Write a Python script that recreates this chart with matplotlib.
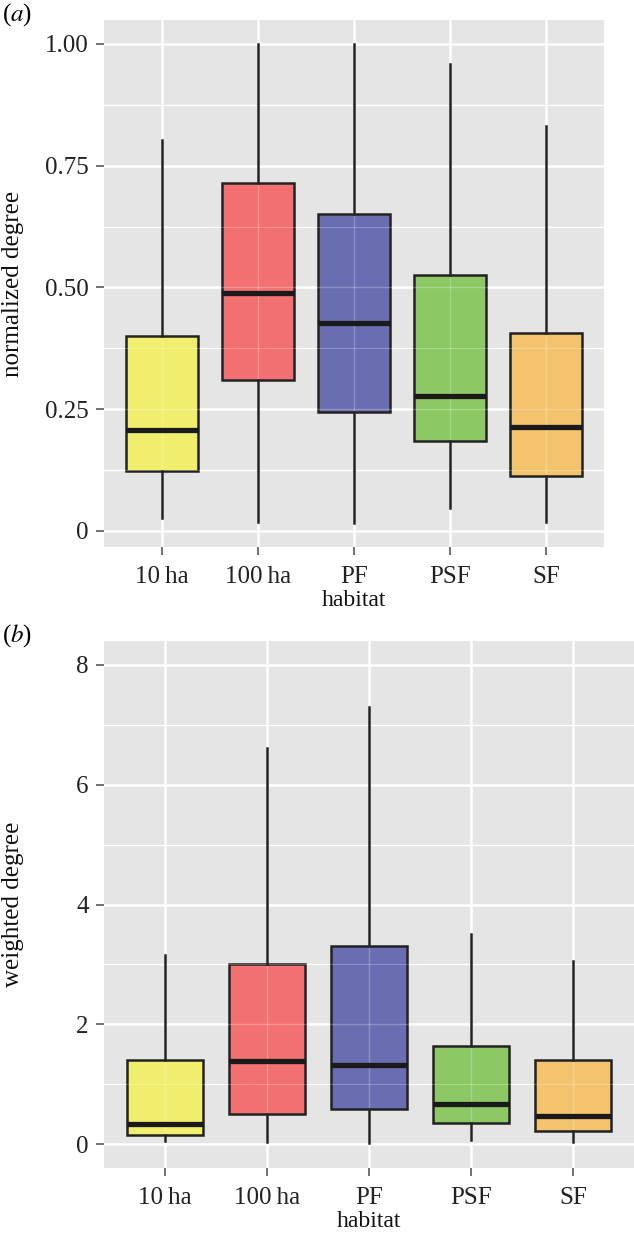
import numpy as np
import matplotlib
matplotlib.use("Agg")
import matplotlib.pyplot as plt

plt.rcParams['font.family'] = ['Liberation Serif', 'DejaVu Serif']

# data
habitats = ["10\u2009ha", "100\u2009ha", "PF", "PSF", "SF"]
colors = ["#f0ee6c", "#f37072", "#6a6db2", "#8cc864", "#f3c36e"]

# panel a: normalized degree
a_low = [0.027, 0.019, 0.016, 0.047, 0.019]
a_q1 = [0.123, 0.309, 0.245, 0.185, 0.113]
a_med = [0.208, 0.488, 0.426, 0.276, 0.214]
a_q3 = [0.401, 0.715, 0.651, 0.525, 0.407]
a_high = [0.803, 1.00, 1.00, 0.959, 0.832]

# panel b: weighted degree
b_low = [0.05, 0.04, 0.02, 0.06, 0.03]
b_q1 = [0.15, 0.51, 0.58, 0.35, 0.21]
b_med = [0.33, 1.38, 1.32, 0.67, 0.46]
b_q3 = [1.40, 3.00, 3.30, 1.63, 1.40]
b_high = [3.15, 6.62, 7.30, 3.50, 3.05]


def make_stats(low, q1, med, q3, high):
    return [dict(whislo=l, q1=a, med=m, q3=b, whishi=h, fliers=[])
            for l, a, m, b, h in zip(low, q1, med, q3, high)]


def draw(ax, stats, ylim, yticks, ytlabels, minor, ylabel):
    ax.set_facecolor("#e5e5e5")
    pos = np.arange(1, len(habitats) + 1)
    bp = ax.bxp(stats, positions=pos, widths=0.75, patch_artist=True,
                showcaps=False, manage_ticks=False,
                boxprops=dict(edgecolor="#222222", linewidth=1.8, zorder=2),
                whiskerprops=dict(color="#222222", linewidth=1.8, zorder=4),
                medianprops=dict(color="#1a1a1a", linewidth=3.8,
                                 solid_capstyle="butt", zorder=4))
    for patch, c in zip(bp["boxes"], colors):
        patch.set_facecolor(c)
    # faint gridlines through the boxes
    for y in list(yticks) + list(minor):
        ax.axhline(y, color="white", lw=1.0 if y in yticks else 0.7,
                   alpha=0.25, zorder=3)
    for x in pos:
        ax.axvline(x, color="white", lw=1.0, alpha=0.25, zorder=3)

    ax.set_xlim(0.4, len(habitats) + 0.6)
    ax.set_ylim(*ylim)
    ax.set_xticks(pos)
    ax.set_xticklabels(habitats, fontsize=18)
    ax.set_yticks(yticks)
    ax.set_yticklabels(ytlabels, fontsize=18)
    ax.set_yticks(minor, minor=True)
    ax.grid(True, which="major", color="white", lw=1.8, zorder=0)
    ax.grid(True, which="minor", axis="y", color="white", lw=0.9, zorder=0)
    ax.set_axisbelow(True)
    ax.tick_params(which="major", length=6, width=1.3, color="#666666",
                   labelcolor="#222222", pad=5)
    ax.tick_params(axis="x", which="major", pad=8)
    ax.tick_params(which="minor", length=0)
    for s in ax.spines.values():
        s.set_visible(False)
    ax.set_xlabel("habitat", fontsize=17, labelpad=1, color="#111111")
    ax.set_ylabel(ylabel, fontsize=18, color="#111111")


fig = plt.figure(figsize=(6.34, 12.35), dpi=100)
ax1 = fig.add_axes([104 / 634, 1 - 547 / 1235, 500 / 634, 527 / 1235])
ax2 = fig.add_axes([104 / 634, 1 - 1168 / 1235, 530 / 634, 527 / 1235])

draw(ax1, make_stats(a_low, a_q1, a_med, a_q3, a_high), (-0.033, 1.049),
     [0, 0.25, 0.5, 0.75, 1.0], ["0", "0.25", "0.50", "0.75", "1.00"],
     [0.125, 0.375, 0.625, 0.875], "normalized degree")
draw(ax2, make_stats(b_low, b_q1, b_med, b_q3, b_high), (-0.4, 8.4),
     [0, 2, 4, 6, 8], ["0", "2", "4", "6", "8"],
     [1, 3, 5, 7], "weighted degree")

ax1.yaxis.set_label_coords(-80 / 500, 0.5)
ax2.yaxis.set_label_coords(-80 / 530, 0.5)

fig.text(2 / 634, 1 - 15 / 1235, "($a$)", fontsize=18, va="center",
         math_fontfamily="stix")
fig.text(2 / 634, 1 - 636 / 1235, "($b$)", fontsize=18, va="center",
         math_fontfamily="stix")

fig.savefig("out.png", dpi=100)
